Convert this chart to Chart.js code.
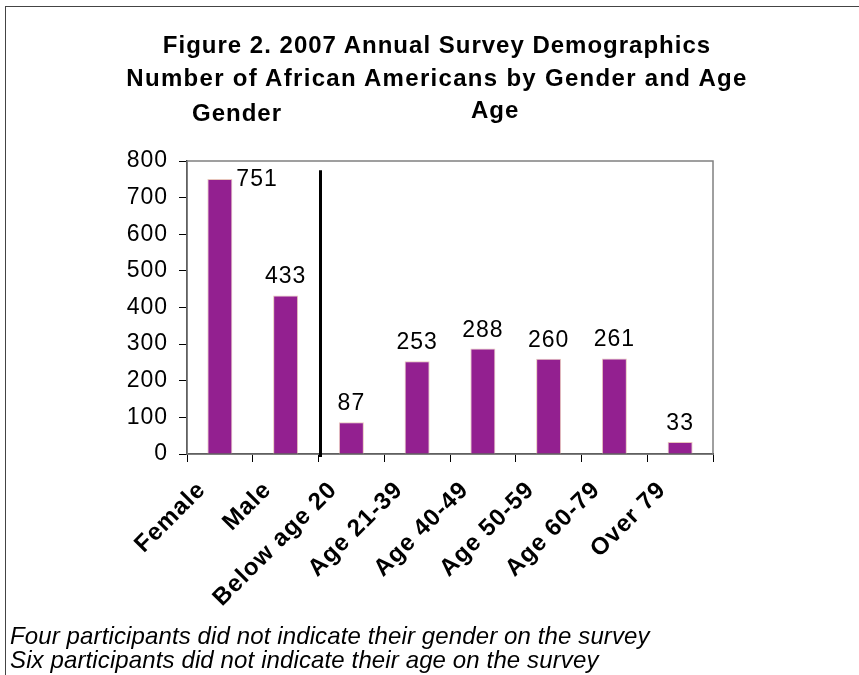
<!DOCTYPE html>
<html>
<head>
<meta charset="utf-8">
<script src="https://cdn.jsdelivr.net/npm/chart.js@4.4.1/dist/chart.umd.min.js"></script>
<style>
  html, body { margin: 0; padding: 0; overflow: hidden; background: #fff; }
  body { width: 859px; height: 675px; position: relative; font-family: "Liberation Sans", Arial, sans-serif; color: #000; }
  #frame { position: absolute; left: 5px; top: 6px; width: 900px; height: 700px; border: 1px solid #444; }
  #chart-box { position: absolute; left: 0; top: 0; width: 859px; height: 675px; }
  .title { position: absolute; left: 0; width: 874px; text-align: center; font-weight: bold; font-size: 24px; line-height: 33px; letter-spacing: 1px; white-space: nowrap; }
  .group { position: absolute; font-weight: bold; font-size: 24px; line-height: 33px; letter-spacing: 1px; white-space: nowrap; }
  .note { position: absolute; left: 10px; font-style: italic; font-size: 24px; line-height: 24px; letter-spacing: 0.12px; white-space: nowrap; }
</style>
</head>
<body>
<div id="frame"></div>
<div id="chart-box"><canvas id="demoChart" width="859" height="675"></canvas></div>
<div class="title" style="top:28px">Figure 2. 2007 Annual Survey Demographics</div>
<div class="title" style="top:61px; letter-spacing:1.3px">Number of African Americans by Gender and Age</div>
<div class="group" style="left:192px; top:96px">Gender</div>
<div class="group" style="left:471px; top:93px">Age</div>
<div class="note" style="top:624px">Four participants did not indicate their gender on the survey</div>
<div class="note" style="top:648px">Six participants did not indicate their age on the survey</div>

<script>
const categories = ['Female', 'Male', 'Below age 20', 'Age 21-39', 'Age 40-49', 'Age 50-59', 'Age 60-79', 'Over 79'];
const counts = [751, 433, 87, 253, 288, 260, 261, 33];
const yMin = 0;
const yMax = 800;
const yStep = 100;

const fontFamily = '"Liberation Sans", Arial, sans-serif';

// the original text is set a little loose, so widen canvas text too
const looseText = {
    id: 'looseText',
    beforeUpdate(chart) { chart.ctx.letterSpacing = '1px'; },
    beforeDraw(chart) { chart.ctx.letterSpacing = '1px'; }
};

// gray box round the plot area, axes draw black over left/bottom
const plotFrame = {
    id: 'plotFrame',
    beforeDatasetsDraw(chart) {
        const { ctx, chartArea: a } = chart;
        ctx.save();
        ctx.strokeStyle = '#808080';
        ctx.lineWidth = 1.5;
        ctx.strokeRect(a.left, a.top, a.right - a.left, a.bottom - a.top);
        ctx.restore();
    }
};

// thick line splitting gender bars from age bars
const groupDivider = {
    id: 'groupDivider',
    afterDatasetsDraw(chart) {
        const { ctx, scales } = chart;
        const x = (scales.x.getPixelForValue(1) + scales.x.getPixelForValue(2)) / 2 + 2;
        ctx.save();
        ctx.strokeStyle = '#000';
        ctx.lineWidth = 3;
        ctx.beginPath();
        ctx.moveTo(x, scales.y.getPixelForValue(775));
        ctx.lineTo(x, scales.y.getPixelForValue(0) + 3);
        ctx.stroke();
        ctx.restore();
    }
};

const valueLabels = {
    id: 'valueLabels',
    afterDatasetsDraw(chart) {
        const { ctx, chartArea: area } = chart;
        ctx.save();
        ctx.font = '23px ' + fontFamily;
        ctx.fillStyle = '#000';
        ctx.textBaseline = 'alphabetic';
        chart.getDatasetMeta(0).data.forEach((bar, i) => {
            const text = String(counts[i]);
            const y = bar.y - 12;
            if (y - 17 < area.top) {
                // no room above, put it beside the bar
                ctx.textAlign = 'left';
                ctx.fillText(text, bar.x + bar.width / 2 + 4, bar.y + 7);
            } else {
                ctx.textAlign = 'center';
                ctx.fillText(text, bar.x, y);
            }
        });
        ctx.restore();
    }
};

new Chart(document.getElementById('demoChart'), {
    type: 'bar',
    data: {
        labels: categories,
        datasets: [{
            data: counts,
            backgroundColor: '#932090',
            borderColor: '#e8c6bc',
            borderWidth: 1,
            barPercentage: 0.38,
            categoryPercentage: 1
        }]
    },
    options: {
        responsive: false,
        animation: false,
        layout: { padding: { top: 161, right: 146, bottom: 0, left: 0 } },
        plugins: {
            legend: { display: false },
            tooltip: { enabled: false },
            title: { display: false }
        },
        scales: {
            x: {
                afterFit(scale) { scale.height = 221; },
                grid: { offset: true, drawOnChartArea: false, tickLength: 8, color: '#000', lineWidth: 1 },
                border: { display: true, color: '#000', width: 1.5 },
                ticks: {
                    autoSkip: false,
                    maxRotation: 45,
                    minRotation: 45,
                    labelOffset: -18,
                    padding: 14,
                    color: '#000',
                    font: { family: fontFamily, size: 24, weight: 'bold' }
                }
            },
            y: {
                min: yMin,
                max: yMax,
                afterFit(scale) { scale.width = 187; },
                grid: { drawOnChartArea: false, tickLength: 8, color: '#000', lineWidth: 1 },
                border: { display: true, color: '#000', width: 1.5 },
                ticks: {
                    stepSize: yStep,
                    padding: 11,
                    color: '#000',
                    font: { family: fontFamily, size: 23 }
                }
            }
        }
    },
    plugins: [looseText, plotFrame, groupDivider, valueLabels]
});
</script>
</body>
</html>
